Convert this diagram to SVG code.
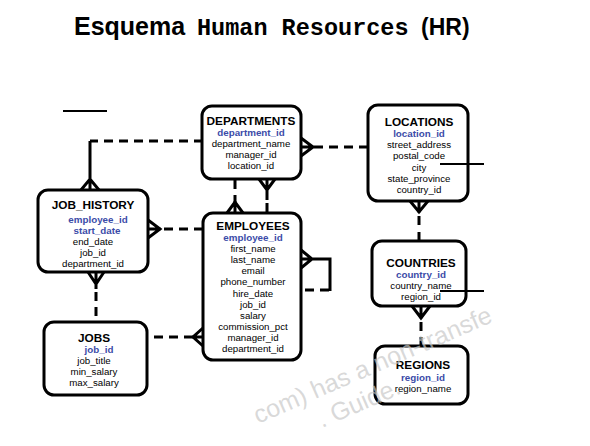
<svg xmlns="http://www.w3.org/2000/svg" width="590" height="446" viewBox="0 0 590 446">
<style>
.box{fill:#fff;stroke:#000;stroke-width:3}
.t{font-family:"Liberation Sans",Arial,sans-serif;font-size:11.8px;font-weight:bold;fill:#000;text-anchor:middle}
.k{font-family:"Liberation Sans",Arial,sans-serif;font-size:9.8px;font-weight:bold;fill:#3b4ba8;text-anchor:middle}
.a{font-family:"Liberation Sans",Arial,sans-serif;font-size:9.7px;fill:#000;text-anchor:middle}
.s{fill:none;stroke:#000;stroke-width:3}
.d{fill:none;stroke:#000;stroke-width:3;stroke-dasharray:9 6}
.wm{font-family:"Liberation Sans",Arial,sans-serif;font-size:25px;fill:#c8c8c8;fill-opacity:0.7}
</style>
<rect width="590" height="446" fill="#fff"/>
<g id="title">
<text x="74" y="35" font-family="'Liberation Sans',Arial,sans-serif" font-weight="bold" font-size="25">Esquema</text>
<text x="197" y="35" font-family="'Liberation Mono','Courier New',monospace" font-weight="bold" font-size="23.5">Human Resources</text>
<text x="421" y="35" font-family="'Liberation Sans',Arial,sans-serif" font-weight="bold" font-size="23">(HR)</text>
</g>
<line x1="63" y1="111" x2="107" y2="111" stroke="#000" stroke-width="2"/>
<g id="connectors">
<path class="d" d="M203 141 H90"/>
<path class="s" d="M90 141 V190 M81 190 L90 179 L99 190"/>
<path class="s" d="M301 138 L313 147 L301 156 M301 147 H314"/>
<path class="d" d="M314 147 H368"/>
<path class="d" d="M235 180 V202"/>
<path class="s" d="M235 201 V213 M227 213 L235 202 L243 213"/>
<path class="s" d="M259 179 L267 190 L275 179 M267 179 V200 M267 203 V213"/>
<path class="s" d="M148 220 L160 229 L148 238 M148 229 H161"/>
<path class="d" d="M164 229 H203"/>
<path class="s" d="M88 272 L96 284 L104 272 M96 272 V289"/>
<path class="d" d="M96 292 V322"/>
<path class="d" d="M154 337 H193"/>
<path class="s" d="M193 337 H203 M203 328 L193 337 L203 346"/>
<path class="s" d="M301 250 L312 259 L301 268 M301 259 H330 V291"/>
<path class="d" d="M329 290 H301"/>
<path class="s" d="M410 201 L419 212 L428 201 M419 201 V213"/>
<path class="d" d="M419 216 V230"/>
<path class="s" d="M419 232 V241"/>
<path class="s" d="M412 306 L421 318 L430 306 M421 306 V319"/>
<path class="d" d="M421 322 V336"/>
<path class="s" d="M421 337 V346"/>
</g>
<g id="departments">
<rect class="box" x="202" y="106" width="99" height="73" rx="10"/>
<text class="t" x="251" y="125">DEPARTMENTS</text>
<text class="k" x="251" y="136">department_id</text>
<text class="a" x="251" y="147">department_name</text>
<text class="a" x="251" y="158">manager_id</text>
<text class="a" x="251" y="169">location_id</text>
</g>
<g id="locations">
<rect class="box" x="368" y="105" width="100" height="96" rx="10"/>
<text class="t" x="419" y="126">LOCATIONS</text>
<text class="k" x="419" y="137">location_id</text>
<text class="a" x="419" y="148.2">street_address</text>
<text class="a" x="419" y="159.4">postal_code</text>
<text class="a" x="419" y="170.6">city</text>
<text class="a" x="419" y="181.8">state_province</text>
<text class="a" x="419" y="193">country_id</text>
</g>
<g id="countries">
<rect class="box" x="372" y="241" width="94" height="65" rx="10"/>
<text class="t" x="421" y="267">COUNTRIES</text>
<text class="k" x="421" y="278">country_id</text>
<text class="a" x="421" y="289">country_name</text>
<text class="a" x="421" y="300">region_id</text>
</g>
<g id="regions">
<rect class="box" x="375" y="346" width="93" height="58" rx="10"/>
<text class="t" x="423" y="369">REGIONS</text>
<text class="k" x="423" y="381">region_id</text>
<text class="a" x="423" y="392">region_name</text>
</g>
<g id="employees">
<rect class="box" x="203" y="213" width="98" height="147" rx="10"/>
<text class="t" x="253" y="230">EMPLOYEES</text>
<text class="k" x="253" y="241">employee_id</text>
<text class="a" x="253" y="252.1">first_name</text>
<text class="a" x="253" y="263.2">last_name</text>
<text class="a" x="253" y="274.3">email</text>
<text class="a" x="253" y="285.4">phone_number</text>
<text class="a" x="253" y="296.5">hire_date</text>
<text class="a" x="253" y="307.6">job_id</text>
<text class="a" x="253" y="318.7">salary</text>
<text class="a" x="253" y="329.8">commission_pct</text>
<text class="a" x="253" y="340.9">manager_id</text>
<text class="a" x="253" y="352">department_id</text>
</g>
<g id="job_history">
<rect class="box" x="38" y="190" width="110" height="82" rx="10"/>
<text class="t" x="93" y="209">JOB_HISTORY</text>
<text class="k" x="98" y="222.5">employee_id</text>
<text class="k" x="97" y="233.5">start_date</text>
<text class="a" x="93" y="244.5">end_date</text>
<text class="a" x="93" y="256">job_id</text>
<text class="a" x="93" y="267">department_id</text>
</g>
<g id="jobs">
<rect class="box" x="44" y="322" width="103" height="73" rx="10"/>
<text class="t" x="94" y="342">JOBS</text>
<text class="k" x="99" y="353">job_id</text>
<text class="a" x="94" y="364">job_title</text>
<text class="a" x="94" y="375">min_salary</text>
<text class="a" x="94" y="386">max_salary</text>
</g>
<line x1="440" y1="164" x2="484" y2="164" stroke="#000" stroke-width="1.8"/>
<line x1="440" y1="291" x2="484" y2="291" stroke="#000" stroke-width="1.8"/>
<g id="watermark">
<text class="wm" transform="translate(258 424) rotate(-23.5)">com) has a non-transfe</text>
<text class="wm" transform="translate(322 428) rotate(-23.5)">. Guide.</text>
</g>
</svg>
